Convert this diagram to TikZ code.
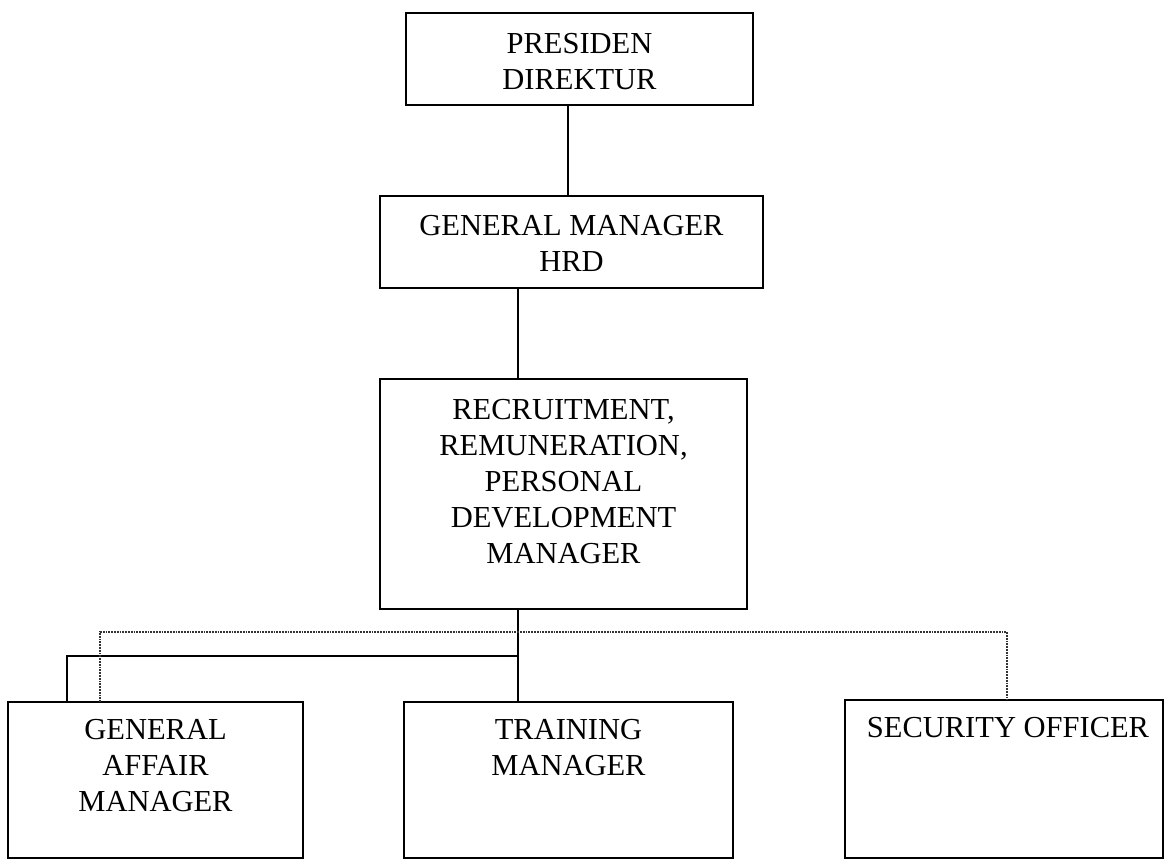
\documentclass[tikz,border=0pt]{standalone}
\usepackage{fontspec}
\setmainfont{Liberation Serif}
\begin{document}
\begin{tikzpicture}[x=1pt,y=-1pt,
  box/.style={draw, line width=2.6pt, inner sep=0pt, outer sep=0pt},
  lbl/.style={font=\fontsize{30.5}{36}\selectfont, align=center, inner sep=0pt, anchor=north},
  conn/.style={line width=2.6pt},
  dotline/.style={line width=1.8pt, densely dotted, black!80}]
\useasboundingbox (0,0) rectangle (1165,859);
\fill[white] (0,0) rectangle (1165,859);
% boxes
\node[box, minimum width=347pt, minimum height=92pt] (p) at (579.5,59) {};
\node[box, minimum width=383pt, minimum height=92pt] (g) at (571.5,242) {};
\node[box, minimum width=367pt, minimum height=230pt] (r) at (563.5,494) {};
\node[box, minimum width=295pt, minimum height=156pt] (ga) at (155.5,780) {};
\node[box, minimum width=329pt, minimum height=156pt] (tr) at (568.5,780) {};
\node[box, minimum width=318pt, minimum height=158pt] (so) at (1004,779) {};
% labels
\node[lbl] (tp) at ([yshift=-20pt]p.north) {PRESIDEN\\DIREKTUR};
\node[lbl] (tg) at ([yshift=-19pt]g.north) {GENERAL MANAGER\\HRD};
\node[lbl] (trr) at ([yshift=-20pt]r.north) {RECRUITMENT,\\REMUNERATION,\\PERSONAL\\DEVELOPMENT\\MANAGER};
\node[lbl] (tga) at ([yshift=-17pt]ga.north) {GENERAL\\AFFAIR\\MANAGER};
\node[lbl] (ttr) at ([yshift=-17pt]tr.north) {TRAINING\\MANAGER};
\node[lbl] (tso) at ([yshift=-17pt,xshift=4pt]so.north) {SECURITY OFFICER};
% connector helpers
\coordinate (c1) at (568,0);
\coordinate (c2) at (518,0);
\coordinate (c3) at (67,0);
\coordinate (j1) at (518,656);
\coordinate (d1) at (100,632);
\coordinate (d2) at (1007,632);
% connectors
\draw[conn] (p.south -| c1) -- (g.north -| c1);
\draw[conn] (g.south -| c2) -- (r.north -| c2);
\draw[conn] (r.south -| c2) -- (tr.north -| c2);
\draw[conn] (j1) -| (ga.north -| c3);
\draw[dotline] (ga.north -| d1) -- (d1) -- (d2) -- (so.north -| d2);
\end{tikzpicture}
\end{document}
